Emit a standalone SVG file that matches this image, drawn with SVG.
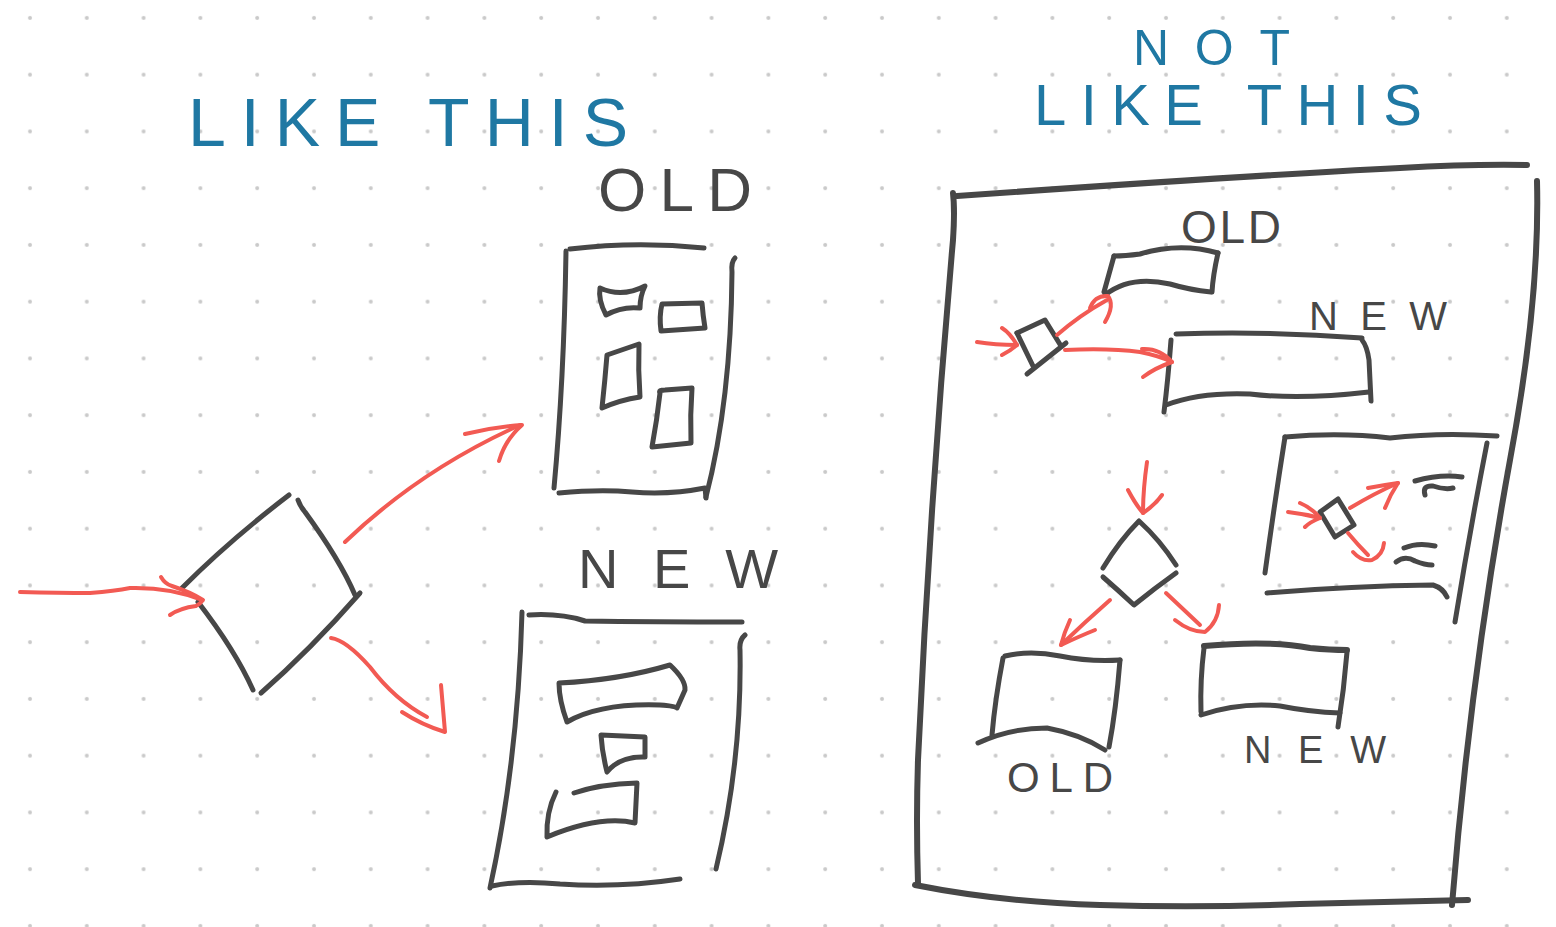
<svg xmlns="http://www.w3.org/2000/svg" width="1556" height="927" viewBox="0 0 1556 927">
<style>
.ink{fill:none;stroke:#474747;stroke-width:5;stroke-linecap:round;stroke-linejoin:round}
.thick{stroke-width:6}
.red{fill:none;stroke:#f25a53;stroke-width:4;stroke-linecap:round;stroke-linejoin:round}
.title{font-family:"Liberation Sans","DejaVu Sans",sans-serif;fill:#1f78a3}
.label{font-family:"Liberation Sans","DejaVu Sans",sans-serif;fill:#474747}
</style>
<defs>
<pattern id="dots" x="0" y="0" width="56.8" height="56.75" patternUnits="userSpaceOnUse">
<circle cx="30" cy="18" r="2" fill="#c9c9c9"/>
</pattern>
</defs>
<rect width="1556" height="927" fill="#ffffff"/>
<rect width="1556" height="927" fill="url(#dots)"/>

<!-- LEFT: LIKE THIS -->
<g id="title-like-this">
<text class="title" x="188" y="146" font-size="68" textLength="440" lengthAdjust="spacing">LIKE THIS</text>
</g>

<g id="decision-left">
<path class="ink" d="M182,588 Q230,540 289,495"/>
<path class="ink" d="M298,500 Q300,506 305,512 Q340,560 355,595"/>
<path class="ink" d="M360,593 Q310,650 261,693"/>
<path class="ink" d="M198,602 Q235,650 253,690"/>
</g>

<g id="old-panel">
<text class="label" x="598" y="211" font-size="62" textLength="154" lengthAdjust="spacing">OLD</text>
<path class="ink" d="M570,249 Q636,241 704,248"/>
<path class="ink" d="M566,251 Q564,380 554,488"/>
<path class="ink" d="M559,493 Q600,489 632,492 Q670,495 705,488 L706,498"/>
<path class="ink" d="M735,258 Q731,262 732,272 Q731,400 706,497"/>
<path class="ink" d="M600,288 Q622,298 645,286 Q640,296 640,308 Q622,306 606,315 Q598,300 600,288 Z"/>
<path class="ink" d="M662,304 L702,303 Q703,316 705,328 L661,331 Q659,316 662,304 Z"/>
<path class="ink" d="M607,355 L639,344 Q638,370 640,397 Q620,400 602,408 Q605,380 607,355 Z"/>
<path class="ink" d="M660,393 Q658,390 665,390 L692,388 Q690,415 691,443 L652,447 Q657,420 660,393 Z"/>
</g>

<g id="new-panel">
<text class="label" x="578" y="588" font-size="56" textLength="200" lengthAdjust="spacing">NEW</text>
<path class="ink" d="M529,615 Q560,613 585,621 Q650,622 742,622"/>
<path class="ink" d="M522,612 Q518,760 490,888"/>
<path class="ink" d="M492,886 Q520,880 560,884 Q620,888 680,879"/>
<path class="ink" d="M745,635 Q739,640 740,650 Q742,760 716,869"/>
<path class="ink" d="M559,683 Q620,680 670,665 Q686,680 685,690 L677,708 Q676,706 660,705 Q600,703 567,722 Q559,700 559,683 Z"/>
<path class="ink" d="M601,735 L645,737 L645,757 Q620,756 607,772 Q602,752 601,735 Z"/>
<path class="ink" d="M574,793 Q600,784 637,783 L635,823 Q600,815 547,837 Q546,812 556,792"/>
</g>

<g id="connectors-left">
<path class="red" d="M20,592 Q60,593 90,593 Q115,591 130,588 Q170,587 202,600"/>
<path class="red" d="M161,577 Q165,584 172,586 Q190,592 203,600 Q200,604 196,606 Q180,608 170,615"/>
<path class="red" d="M345,542 Q420,470 520,425"/>
<path class="red" d="M465,434 Q494,427 522,425 Q505,440 499,461"/>
<path class="red" d="M331,638 Q346,640 370,667 Q395,700 427,717"/>
<path class="red" d="M402,712 Q422,725 445,732 Q443,708 441,685"/>
</g>

<!-- RIGHT: NOT LIKE THIS -->
<g id="title-not-like-this">
<text class="title" x="1133" y="65" font-size="50" textLength="157" lengthAdjust="spacing">NOT</text>
<text class="title" x="1034" y="125" font-size="58" textLength="388" lengthAdjust="spacing">LIKE THIS</text>
</g>

<g id="frame">
<path class="ink thick" d="M957,196 Q1240,176 1400,168 Q1470,164 1527,165"/>
<path class="ink thick" d="M953,193 Q955,210 953,240 Q930,500 918,760 Q916,820 918,884"/>
<path class="ink thick" d="M915,885 Q1000,902 1100,905 Q1200,908 1300,904 L1468,900"/>
<path class="ink thick" d="M1537,181 Q1540,300 1510,460 Q1470,680 1452,905"/>
</g>

<g id="inner-decision-top">
<path class="ink" d="M1017,333 L1045,320 L1061,346"/>
<path class="ink" d="M1017,333 L1033,366"/>
<path class="ink" d="M1066,343 L1027,374"/>
</g>

<g id="inner-old-top">
<text class="label" x="1181" y="243" font-size="46" textLength="100" lengthAdjust="spacing">OLD</text>
<path class="ink" d="M1114,256 Q1125,256 1140,254 Q1180,242 1218,253"/>
<path class="ink" d="M1218,253 Q1213,275 1212,292"/>
<path class="ink" d="M1211,292 Q1190,290 1170,284 Q1130,275 1105,295"/>
<path class="ink" d="M1114,256 L1104,292"/>
</g>

<g id="inner-new-top">
<text class="label" x="1309" y="330" font-size="40" textLength="138" lengthAdjust="spacing">NEW</text>
<path class="ink" d="M1176,334 Q1270,331 1362,338"/>
<path class="ink" d="M1171,340 Q1168,380 1164,412"/>
<path class="ink" d="M1166,405 Q1200,392 1250,394 Q1300,400 1369,392"/>
<path class="ink" d="M1362,340 Q1367,346 1369,360 Q1370,380 1371,401"/>
</g>

<g id="inner-subflow">
<path class="ink" d="M1285,437 Q1340,432 1390,438 Q1440,432 1497,436"/>
<path class="ink" d="M1285,437 Q1275,500 1265,573"/>
<path class="ink" d="M1267,593 Q1350,586 1433,585 Q1443,588 1447,597"/>
<path class="ink" d="M1487,443 Q1470,530 1455,622"/>
<path class="ink" d="M1320,512 L1338,499 L1354,525 L1335,537 Z"/>
<path class="ink" d="M1415,481 Q1440,474 1462,477"/>
<path class="ink" d="M1425,495 Q1422,485 1433,486 Q1445,490 1453,488"/>
<path class="ink" d="M1404,548 Q1418,542 1435,546"/>
<path class="ink" d="M1396,562 Q1405,555 1415,561 Q1425,565 1432,565"/>
</g>

<g id="inner-decision-mid">
<path class="ink" d="M1103,568 Q1120,540 1139,521 Q1160,540 1176,565"/>
<path class="ink" d="M1103,577 Q1118,590 1134,605 Q1155,588 1176,573"/>
</g>

<g id="inner-old-bottom">
<path class="ink" d="M1005,656 Q1030,650 1060,656 Q1090,662 1120,660"/>
<path class="ink" d="M1003,658 Q995,700 992,735"/>
<path class="ink" d="M978,743 Q1010,728 1047,728 Q1080,734 1105,750"/>
<path class="ink" d="M1120,660 Q1116,710 1109,747"/>
<text class="label" x="1007" y="792" font-size="42" textLength="106" lengthAdjust="spacing">OLD</text>
</g>

<g id="inner-new-bottom">
<path class="ink thick" d="M1204,646 Q1270,640 1310,648 Q1330,650 1347,650"/>
<path class="ink" d="M1204,648 Q1200,680 1201,712"/>
<path class="ink" d="M1201,715 Q1240,702 1280,706 Q1310,712 1340,713"/>
<path class="ink" d="M1347,652 Q1344,690 1338,727"/>
<text class="label" x="1244" y="763" font-size="38" textLength="142" lengthAdjust="spacing">NEW</text>
</g>

<g id="connectors-right">
<path class="red" d="M977,342 Q995,345 1017,345"/>
<path class="red" d="M1002,328 Q1010,333 1017,345 Q1010,351 1002,355"/>
<path class="red" d="M1057,335 Q1080,315 1107,300"/>
<path class="red" d="M1090,308 Q1095,295 1108,296 Q1115,305 1105,322"/>
<path class="red" d="M1065,350 Q1110,348 1140,352 Q1160,356 1172,362"/>
<path class="red" d="M1142,349 Q1160,348 1172,362 Q1155,368 1143,377"/>
<path class="red" d="M1288,512 Q1305,514 1320,518"/>
<path class="red" d="M1300,503 Q1312,508 1320,518 Q1310,522 1305,527"/>
<path class="red" d="M1350,508 Q1375,493 1398,483"/>
<path class="red" d="M1368,488 Q1384,485 1398,483 Q1390,495 1385,508"/>
<path class="red" d="M1348,533 Q1358,545 1368,555"/>
<path class="red" d="M1353,552 Q1362,562 1372,560 Q1383,555 1384,543"/>
<path class="red" d="M1147,462 Q1143,490 1143,513"/>
<path class="red" d="M1128,490 Q1136,505 1143,513 Q1155,505 1162,495"/>
<path class="red" d="M1110,600 Q1085,622 1061,645"/>
<path class="red" d="M1070,620 Q1064,633 1061,645 Q1080,636 1095,630"/>
<path class="red" d="M1166,593 Q1182,608 1200,625"/>
<path class="red" d="M1175,620 Q1190,632 1205,632 Q1218,622 1219,605"/>
</g>
</svg>
